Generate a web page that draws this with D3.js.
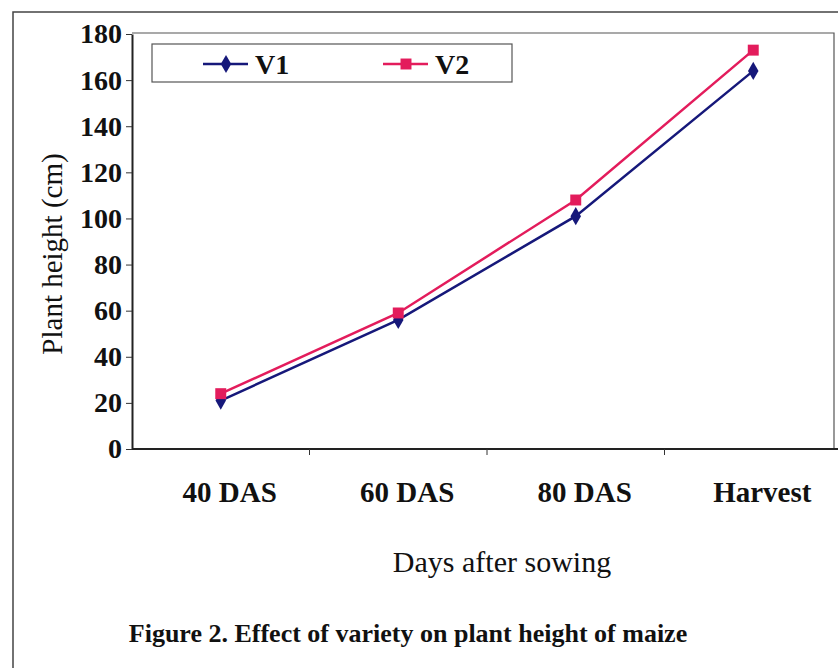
<!DOCTYPE html>
<html>
<head>
<meta charset="utf-8">
<script src="https://cdn.jsdelivr.net/npm/d3@7"></script>
<style>
  body { margin: 0; background: #fff; }
  svg { display: block; }
  text { font-family: "Liberation Serif", "Times New Roman", serif; fill: #111; }
</style>
</head>
<body>
<div id="chart"></div>
<script>
var categories = ["40 DAS", "60 DAS", "80 DAS", "Harvest"];
var v1 = [21, 56, 101, 164];
var v2 = [24, 59, 108, 173];
var yTicks = [0, 20, 40, 60, 80, 100, 120, 140, 160, 180];

var series = [
  { name: "V1", values: v1, color: "#16187a", shape: d3.symbolDiamond, size: 95 },
  { name: "V2", values: v2, color: "#e31c5c", shape: d3.symbolSquare, size: 120 }
];

var width = 838, height = 668;

var svg = d3.select("#chart").append("svg")
  .attr("width", width)
  .attr("height", height);

// outer figure frame (scan edges)
svg.append("path")
  .attr("d", "M13,668 V12 H838")
  .attr("fill", "none")
  .attr("stroke", "#444")
  .attr("stroke-width", 1.5);

var x = d3.scaleBand().domain(categories).range([132, 842]);
var y = d3.scaleLinear().domain([0, 180]).range([449, 34]);

// plot area border top/right
svg.append("path")
  .attr("d", "M132," + (y(180) - 1) + " H834 V" + y(0))
  .attr("fill", "none")
  .attr("stroke", "#555")
  .attr("stroke-width", 1.2);

// y axis
var yAxis = svg.append("g")
  .attr("transform", "translate(132,0)")
  .call(d3.axisLeft(y).tickValues(yTicks).tickSize(6).tickSizeOuter(0));
yAxis.select(".domain").attr("stroke", "#222").attr("stroke-width", 2);
yAxis.selectAll(".tick line").attr("stroke", "#333");
yAxis.selectAll(".tick text")
  .attr("x", -10)
  .style("font-size", "28px")
  .style("font-weight", "bold")
  .attr("fill", "#111");

// x axis line
svg.append("line")
  .attr("x1", 132).attr("x2", 838)
  .attr("y1", y(0)).attr("y2", y(0))
  .attr("stroke", "#222").attr("stroke-width", 2);

// ticks between categories
svg.selectAll(".xtick")
  .data(categories.slice(1))
  .enter().append("line")
  .attr("class", "xtick")
  .attr("x1", function (d) { return x(d); })
  .attr("x2", function (d) { return x(d); })
  .attr("y1", y(0)).attr("y2", y(0) + 6)
  .attr("stroke", "#333");

svg.selectAll(".xlabel")
  .data(categories)
  .enter().append("text")
  .attr("class", "xlabel")
  .attr("x", function (d) { return x(d) + x.bandwidth() / 2 + 9; })
  .attr("y", 502)
  .attr("text-anchor", "middle")
  .style("font-size", "29px")
  .style("font-weight", "bold")
  .text(function (d) { return d; });

// lines and markers
var line = d3.line()
  .x(function (d, i) { return x(categories[i]) + x.bandwidth() / 2; })
  .y(function (d) { return y(d); });

series.forEach(function (s) {
  svg.append("path")
    .datum(s.values)
    .attr("d", line)
    .attr("fill", "none")
    .attr("stroke", s.color)
    .attr("stroke-width", 2.5);

  svg.selectAll(".pt-" + s.name)
    .data(s.values)
    .enter().append("path")
    .attr("class", "pt-" + s.name)
    .attr("transform", function (d, i) {
      return "translate(" + (x(categories[i]) + x.bandwidth() / 2) + "," + y(d) + ")";
    })
    .attr("d", d3.symbol().type(s.shape).size(s.size))
    .attr("fill", s.color);
});

// legend
var legend = svg.append("g");
legend.append("rect")
  .attr("x", 152).attr("y", 44)
  .attr("width", 360).attr("height", 38)
  .attr("fill", "#fff")
  .attr("stroke", "#555")
  .attr("stroke-width", 1.2);

var lg = legend.selectAll(".lg")
  .data(series)
  .enter().append("g")
  .attr("class", "lg")
  .attr("transform", function (d, i) { return "translate(" + (203 + i * 180) + ",64)"; });

lg.append("line")
  .attr("x1", 0).attr("x2", 45)
  .attr("stroke", function (d) { return d.color; })
  .attr("stroke-width", 2.5);

lg.append("path")
  .attr("transform", "translate(23,0)")
  .attr("d", function (d) { return d3.symbol().type(d.shape).size(d.size)(); })
  .attr("fill", function (d) { return d.color; });

lg.append("text")
  .attr("x", 52)
  .attr("y", 10)
  .style("font-size", "28px")
  .style("font-weight", "bold")
  .text(function (d) { return d.name; });

// axis titles
svg.append("text")
  .attr("transform", "translate(62,254) rotate(-90)")
  .attr("text-anchor", "middle")
  .style("font-size", "29px")
  .text("Plant height (cm)");

svg.append("text")
  .attr("x", 502)
  .attr("y", 572)
  .attr("text-anchor", "middle")
  .style("font-size", "30px")
  .text("Days after sowing");

svg.append("text")
  .attr("x", 408)
  .attr("y", 642)
  .attr("text-anchor", "middle")
  .style("font-size", "26px")
  .style("font-weight", "bold")
  .text("Figure 2. Effect of variety on plant height of maize");
</script>
</body>
</html>
